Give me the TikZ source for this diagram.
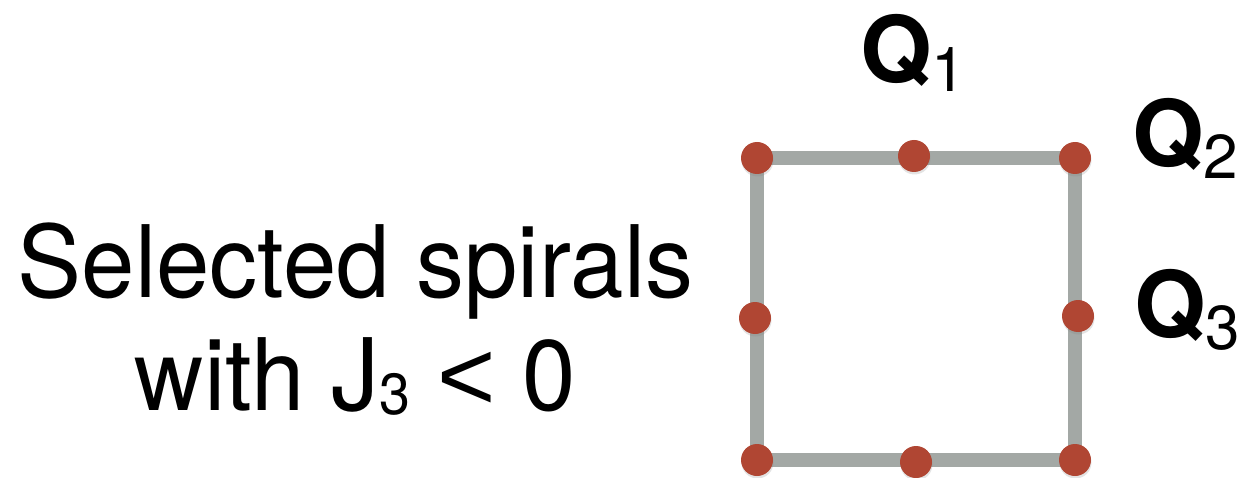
\documentclass[tikz,border=0pt]{standalone}
\usepackage{fontspec}
\setmainfont{TeX Gyre Heros}
\newfontfamily\txtfont{TeX Gyre Heros}[FakeStretch=0.96]
\newfontfamily\relfont{Liberation Sans}
\usetikzlibrary{backgrounds,shadows}
\definecolor{edgegray}{HTML}{A3A8A5}
\definecolor{dotred}{HTML}{B04633}
\begin{document}
\begin{tikzpicture}[x=1pt,y=-1pt,
  dot/.style={circle,fill=dotred,inner sep=0pt,minimum size=32pt,
    drop shadow={opacity=0.22,shadow xshift=0.5pt,shadow yshift=-2.5pt}},
  edge/.style={draw=edgegray,line width=14pt,line join=miter},
  qlab/.style={anchor=base west,inner sep=0pt,font=\bfseries\fontsize{92}{92}\selectfont},
  txt/.style={inner sep=0pt,anchor=base,font=\txtfont\fontsize{100}{100}\selectfont}]
\useasboundingbox (0,0) rectangle (1246,478);
% dots
\node[dot] (c1) at (757,158) {};
\node[dot] (c2) at (1075,158) {};
\node[dot] (c3) at (1075,460) {};
\node[dot] (c4) at (757,460) {};
\node[dot] (m1) at (914,156) {};
\node[dot] (m2) at (1078,316) {};
\node[dot] (m3) at (916,462) {};
\node[dot] (m4) at (755,318) {};
\begin{pgfonlayer}{background}
\draw[edge] (c1.center) -- (c2.center) -- (c3.center) -- (c4.center) -- cycle;
\end{pgfonlayer}
% labels
\node[qlab] (q1) at (860,83) {Q\raisebox{-9pt}{\mdseries\fontsize{62}{62}\selectfont 1}};
\node[qlab] (q2) at (1132,167) {Q\raisebox{-12pt}{\mdseries\fontsize{62}{62}\selectfont 2}};
\node[qlab] (q3) at (1134,337) {Q\raisebox{-12pt}{\mdseries\fontsize{62}{62}\selectfont 3}};
% text
\node[txt] (t1) at (355.5,297) {Selected spirals};
\node[txt] (t2) at (355.5,410) {with J\raisebox{-4pt}{\fontsize{58}{58}\selectfont 3} {\relfont <} 0};
\end{tikzpicture}
\end{document}
